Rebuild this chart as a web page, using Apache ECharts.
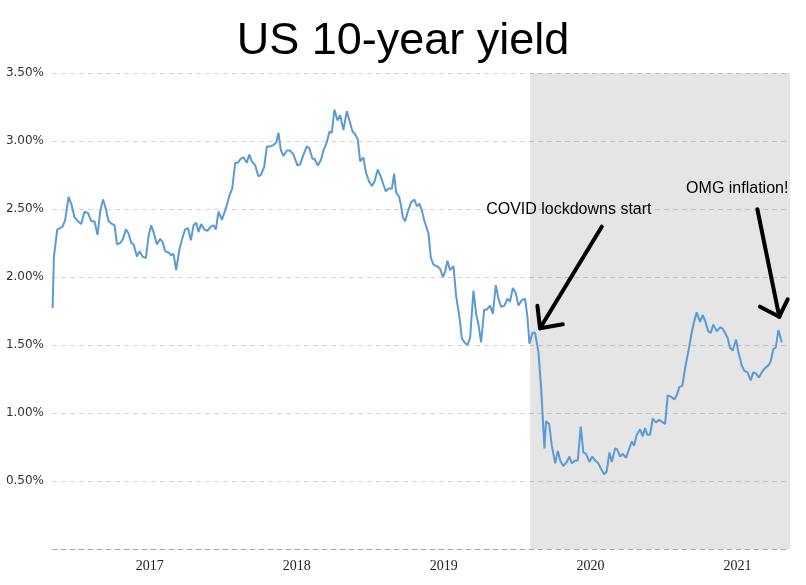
<!DOCTYPE html>
<html>
<head>
<meta charset="utf-8">
<script src="https://cdn.jsdelivr.net/npm/echarts@6/dist/echarts.min.js"></script>
<style>html,body{margin:0;padding:0;background:#fff;}#chart{width:806px;height:585px;}</style>
</head>
<body>
<div id="chart"></div>
<script>
// time positions (decimal years on the chart's x scale) and 10-year yields (%)
const dates = [
2016.339,2016.348,2016.371,2016.391,2016.407,2016.425,2016.448,2016.466,2016.488,2016.512,
2016.534,2016.556,2016.580,2016.602,2016.624,2016.645,2016.663,2016.682,2016.697,2016.720,
2016.743,2016.761,2016.777,2016.799,2016.818,2016.838,2016.856,2016.874,2016.890,2016.913,
2016.931,2016.951,2016.974,2016.992,2017.010,2017.026,2017.049,2017.071,2017.087,2017.105,
2017.128,2017.146,2017.162,2017.180,
2017.203,2017.226,2017.241,2017.260,2017.280,2017.298,2017.316,2017.332,2017.350,2017.371,
2017.393,2017.416,2017.434,2017.450,2017.468,2017.491,2017.507,2017.525,2017.543,2017.561,
2017.582,2017.600,2017.620,2017.638,2017.661,2017.677,2017.695,2017.718,2017.740,2017.756,
2017.779,2017.797,2017.820,2017.842,2017.861,2017.876,2017.893,2017.910,2017.933,2017.956,
2017.978,2018.005,2018.024,
2018.046,2018.069,2018.085,2018.107,2018.121,2018.144,2018.165,2018.182,2018.205,2018.223,
2018.239,2018.257,2018.278,2018.296,2018.318,2018.341,2018.359,2018.380,2018.398,2018.416,
2018.432,2018.454,2018.471,2018.493,2018.512,2018.529,2018.552,2018.575,2018.590,2018.607,
2018.624,2018.648,2018.663,2018.677,2018.697,2018.711,2018.722,2018.738,2018.756,2018.779,
2018.801,2018.818,2018.835,2018.852,2018.867,
2018.897,2018.913,2018.931,2018.954,2018.976,2018.995,2019.010,2019.026,2019.044,2019.067,
2019.085,2019.107,2019.124,2019.141,2019.162,2019.180,2019.203,2019.221,2019.237,2019.255,
2019.276,2019.294,2019.316,2019.335,2019.355,2019.373,2019.391,2019.414,2019.434,2019.452,
2019.471,2019.491,2019.509,2019.532,2019.554,2019.570,2019.584,2019.605,2019.622,2019.645,
2019.663,2019.686,2019.697,2019.718,2019.736,2019.759,2019.777,2019.793,2019.815,2019.838,
2019.856,2019.872,2019.895,2019.913,2019.933,2019.951,2019.969,2019.992,2020.012,2020.031,
2020.053,2020.071,2020.092,2020.110,2020.128,2020.144,2020.167,2020.182,2020.201,2020.219,
2020.241,2020.257,2020.280,2020.296,2020.314,2020.337,2020.355,2020.371,2020.386,2020.405,
2020.423,2020.444,2020.466,2020.507,2020.525,2020.548,2020.570,2020.586,2020.604,2020.624,
2020.643,2020.665,2020.688,2020.704,2020.722,2020.745,2020.763,2020.779,2020.801,2020.818,
2020.835,2020.859,2020.881,2020.899,2020.915,2020.933,2020.949,2020.967,2020.990,2021.005,
2021.029,2021.046,2021.067,2021.090,2021.107,2021.126,2021.146,2021.165,2021.187,2021.210,
2021.226,2021.244,2021.260,2021.278,2021.301
];
const yields = [
1.77,2.15,2.35,2.36,2.37,2.42,2.59,2.54,2.44,2.41,
2.39,2.48,2.47,2.41,2.41,2.31,2.48,2.57,2.52,2.41,
2.39,2.38,2.24,2.25,2.28,2.35,2.32,2.25,2.24,2.15,
2.19,2.15,2.14,2.30,2.38,2.33,2.24,2.28,2.26,2.19,
2.18,2.16,2.17,2.05,
2.21,2.30,2.35,2.36,2.27,2.38,2.40,2.33,2.39,2.35,
2.34,2.37,2.38,2.35,2.48,2.42,2.47,2.53,2.60,2.65,
2.84,2.84,2.87,2.88,2.84,2.90,2.85,2.82,2.74,2.75,
2.81,2.96,2.96,2.97,2.99,3.06,2.93,2.89,2.93,2.93,
2.90,2.82,2.83,
2.90,2.96,2.95,2.87,2.87,2.82,2.86,2.93,2.99,3.07,
3.06,3.23,3.15,3.19,3.08,3.22,3.15,3.07,3.05,3.01,
2.85,2.88,2.77,2.70,2.67,2.70,2.79,2.73,2.68,2.63,
2.65,2.65,2.76,2.62,2.59,2.52,2.44,2.41,2.48,2.55,
2.57,2.52,2.54,2.49,2.42,
2.32,2.14,2.09,2.08,2.06,2.00,2.04,2.12,2.05,2.08,
1.86,1.71,1.55,1.52,1.50,1.55,1.90,1.73,1.65,1.52,
1.76,1.76,1.79,1.73,1.94,1.84,1.78,1.79,1.84,1.82,
1.92,1.88,1.79,1.83,1.84,1.71,1.51,1.59,1.59,1.45,
1.19,0.74,0.94,0.92,0.76,0.63,0.72,0.65,0.61,0.64,
0.68,0.63,0.65,0.65,0.90,0.71,0.70,0.64,0.68,0.65,
0.63,0.59,0.55,0.57,0.71,0.64,0.74,0.73,0.68,0.70,
0.67,0.72,0.79,0.76,0.84,0.88,0.83,0.89,0.84,0.84,
0.96,0.93,0.95,0.92,1.13,1.12,1.10,1.13,1.19,1.20,
1.33,1.45,1.59,1.67,1.74,1.67,1.72,1.68,1.60,1.59,
1.65,1.60,1.63,1.62,1.59,1.55,1.48,1.46,1.54,1.45,
1.35,1.31,1.30,1.24,1.30,1.29,1.26,1.30,1.33,1.35,
1.38,1.47,1.48,1.61,1.52
];
const yearTicks = [2017, 2018, 2019, 2020, 2021];
const titleText = 'US 10-year yield';
const covidStart = 2019.588;
const notes = [
  {text: 'COVID lockdowns start', at: [2019.852, 2.496]},
  {text: 'OMG inflation!', at: [2020.998, 2.651]}
];
// arrow segments: [from, to] in data coordinates
const arrows = [
  [[2020.076, 2.370], [2019.656, 1.623]],
  [[2019.656, 1.623], [2019.638, 1.789]],
  [[2019.656, 1.623], [2019.811, 1.652]],
  [[2021.135, 2.498], [2021.284, 1.708]],
  [[2021.284, 1.708], [2021.153, 1.782]],
  [[2021.284, 1.708], [2021.341, 1.836]]
];

const seriesData = dates.map((d, i) => [d, yields[i]]);
const chart = echarts.init(document.getElementById('chart'));
chart.setOption({
  animation: false,
  backgroundColor: '#ffffff',
  title: {
    text: titleText, left: 'center', top: 14,
    textStyle: {fontFamily: 'Liberation Sans', fontSize: 45, fontWeight: 'normal', color: '#000'}
  },
  grid: {left: 52, right: 16, top: 73, bottom: 36},
  xAxis: {
    type: 'value', min: 2016.335, max: 2021.357,
    axisLine: {show: true, lineStyle: {color: '#aaaaaa', type: [5, 4], width: 1}},
    axisTick: {show: false},
    splitLine: {show: false},
    axisLabel: {
      customValues: yearTicks, margin: 10,
      fontFamily: 'Liberation Serif', fontSize: 14, color: '#222',
      formatter: v => String(Math.round(v))
    }
  },
  yAxis: {
    type: 'value', min: 0, max: 3.5, interval: 0.5,
    axisLine: {show: false}, axisTick: {show: false},
    splitLine: {show: true, lineStyle: {color: '#d6d6d6', type: [5, 4], width: 1}},
    axisLabel: {
      margin: 8, fontFamily: 'DejaVu Sans', fontSize: 12, color: '#333',
      formatter: v => v === 0 ? '' : v.toFixed(2) + '%'
    }
  },
  series: [{
    type: 'line', data: seriesData, showSymbol: false, symbol: 'none',
    lineStyle: {color: '#5b9bd5', width: 2},
    itemStyle: {color: '#5b9bd5'},
    markArea: {
      silent: true,
      itemStyle: {color: 'rgba(0,0,0,0.1)'},
      data: [[{xAxis: covidStart, yAxis: 0}, {xAxis: 2021.357, yAxis: 3.5}]]
    },
    markLine: {
      silent: true, symbol: ['none', 'none'], animation: false,
      label: {show: false},
      lineStyle: {color: '#000', width: 4, type: 'solid', cap: 'round'},
      data: arrows.map(a => [{coord: a[0]}, {coord: a[1]}])
    },
    markPoint: {
      silent: true, symbol: 'rect', symbolSize: 1,
      itemStyle: {color: 'rgba(0,0,0,0)'},
      label: {show: true, position: 'inside', color: '#000', fontFamily: 'Liberation Sans', fontSize: 16},
      data: notes.map(n => ({coord: n.at, value: 0, label: {formatter: n.text}}))
    }
  }]
});
</script>
</body>
</html>
